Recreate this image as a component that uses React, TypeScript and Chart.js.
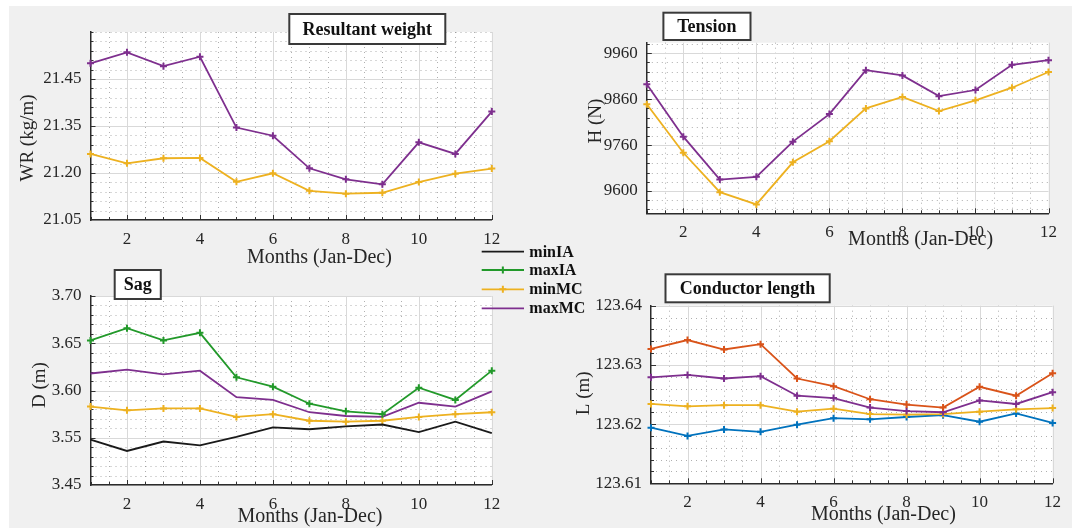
import React, { useEffect, useRef } from "react";
import { Chart, registerables } from "chart.js";

Chart.register(...registerables);

// ---------------- DATA ----------------
const months = [1, 2, 3, 4, 5, 6, 7, 8, 9, 10, 11, 12];
const xTickValues = [2, 4, 6, 8, 10, 12];
const legendNames = ["minIA", "maxIA", "minMC", "maxMC"];

// Resultant weight WR (kg/m)
const wrMaxMC = [21.55, 21.585, 21.541, 21.571, 21.345, 21.319, 21.215, 21.18, 21.164, 21.298, 21.261, 21.396];
const wrMinMC = [21.261, 21.231, 21.247, 21.248, 21.172, 21.199, 21.143, 21.134, 21.137, 21.171, 21.198, 21.214];
const wrTickValues = [21.05, 21.2, 21.35, 21.5];
const wrTickLabels = ["21.05", "21.20", "21.35", "21.45"];

// Tension H (N)
const hMaxMC = [9879, 9742, 9630, 9637, 9729, 9801, 9916, 9902, 9848, 9864, 9930, 9942];
const hMinMC = [9827, 9700, 9597, 9565, 9675, 9730, 9816, 9846, 9809, 9837, 9870, 9911];
const hTickValues = [9600, 9720, 9840, 9960];
const hTickLabels = ["9600", "9760", "9860", "9960"];

// Sag D (m)
const dMinIA = [3.548, 3.536, 3.546, 3.542, 3.551, 3.561, 3.559, 3.562, 3.564, 3.556, 3.567, 3.555];
const dMaxIA = [3.653, 3.666, 3.653, 3.661, 3.614, 3.604, 3.586, 3.578, 3.575, 3.603, 3.59, 3.621];
const dMinMC = [3.583, 3.579, 3.581, 3.581, 3.572, 3.575, 3.568, 3.567, 3.568, 3.572, 3.575, 3.577];
const dMaxMC = [3.618, 3.622, 3.617, 3.621, 3.593, 3.59, 3.577, 3.573, 3.572, 3.587, 3.583, 3.599];
const dTickValues = [3.5, 3.55, 3.6, 3.65, 3.7];
const dTickLabels = ["3.45", "3.55", "3.60", "3.65", "3.70"];

// Conductor length L (m)
const lMaxIA = [123.6327, 123.6342, 123.6326, 123.6335, 123.6277, 123.6264, 123.6242, 123.6233, 123.6228, 123.6263, 123.6248, 123.6286];
const lMaxMC = [123.6279, 123.6283, 123.6277, 123.6281, 123.6248, 123.6244, 123.6228, 123.6222, 123.622, 123.624, 123.6234, 123.6254];
const lMinMC = [123.6234, 123.623, 123.6232, 123.6232, 123.6221, 123.6226, 123.6217, 123.6216, 123.6217, 123.6221, 123.6225, 123.6227];
const lMinIA = [123.6194, 123.618, 123.6191, 123.6187, 123.6199, 123.621, 123.6208, 123.6212, 123.6215, 123.6204, 123.6218, 123.6202];
const lTickValues = [123.61, 123.62, 123.63, 123.64];
const lTickLabels = ["123.61", "123.62", "123.63", "123.64"];

// ---------------- STYLE ----------------
const SERIF = "'Liberation Serif', 'Times New Roman', serif";
const C_PURPLE = "#7E2F8E";
const C_YELLOW = "#EDB120";
const C_GREEN = "#22992A";
const C_BLACK = "#1a1a1a";
const C_RED = "#D95319";
const C_BLUE = "#0072BD";

Chart.defaults.font.family = SERIF;

function series(label: string, values: number[], color: string, marker: boolean) {
  return {
    label,
    data: months.map((m, i) => ({ x: m, y: values[i] })),
    borderColor: color,
    backgroundColor: color,
    borderWidth: 1.8,
    pointStyle: "cross",
    pointRadius: marker ? 3.5 : 0,
    pointBorderWidth: 2,
    pointBorderColor: color,
    pointBackgroundColor: color,
    tension: 0,
    clip: false,
    _marker: marker,
  };
}

interface Panel {
  canvas: [number, number, number, number];
  plot: [number, number, number, number];
  yMin: number;
  yMax: number;
  yTicks: number[];
  yLabels: string[];
  yMinor: number;
  title: string;
  titleBox: [number, number, number, number];
  xTitle: [number, number];
  yTitleText: string;
  yTitle: [number, number];
  datasets: any[];
  legend?: boolean;
}

const panels: Panel[] = [
  {
    canvas: [0, 0, 545, 275],
    plot: [90.5, 32, 491.8, 220],
    yMin: 21.05,
    yMax: 21.65,
    yTicks: wrTickValues,
    yLabels: wrTickLabels,
    yMinor: 0.03,
    title: "Resultant weight",
    titleBox: [289.3, 14, 445.3, 44],
    xTitle: [319.4, 258],
    yTitleText: "WR (kg/m)",
    yTitle: [27.6, 138],
    datasets: [series("maxMC", wrMaxMC, C_PURPLE, true), series("minMC", wrMinMC, C_YELLOW, true)],
  },
  {
    canvas: [545, 0, 527, 265],
    plot: [646.8, 42.7, 1048.5, 213.3],
    yMin: 9541.7,
    yMax: 9987.7,
    yTicks: hTickValues,
    yLabels: hTickLabels,
    yMinor: 24,
    title: "Tension",
    titleBox: [663.4, 12.7, 750.5, 40],
    xTitle: [920.6, 240],
    yTitleText: "H (N)",
    yTitle: [595.7, 121],
    datasets: [series("maxMC", hMaxMC, C_PURPLE, true), series("minMC", hMinMC, C_YELLOW, true)],
  },
  {
    canvas: [0, 240, 600, 291],
    plot: [90.5, 296, 491.8, 485],
    yMin: 3.5,
    yMax: 3.7,
    yTicks: dTickValues,
    yLabels: dTickLabels,
    yMinor: 0.01,
    title: "Sag",
    titleBox: [114.7, 270, 160.8, 299],
    xTitle: [310, 516.7],
    yTitleText: "D (m)",
    yTitle: [39.6, 385],
    datasets: [
      series(legendNames[0], dMinIA, C_BLACK, false),
      series(legendNames[1], dMaxIA, C_GREEN, true),
      series(legendNames[2], dMinMC, C_YELLOW, true),
      series(legendNames[3], dMaxMC, C_PURPLE, false),
    ],
    legend: true,
  },
  {
    canvas: [545, 260, 527, 271],
    plot: [651, 305.7, 1052.6, 483.3],
    yMin: 123.61,
    yMax: 123.64,
    yTicks: lTickValues,
    yLabels: lTickLabels,
    yMinor: 0.002,
    title: "Conductor length",
    titleBox: [665.5, 274.3, 829.7, 302.3],
    xTitle: [883.4, 515],
    yTitleText: "L (m)",
    yTitle: [583.6, 393.3],
    datasets: [
      series("maxIA", lMaxIA, C_RED, true),
      series("maxMC", lMaxMC, C_PURPLE, true),
      series("minMC", lMinMC, C_YELLOW, true),
      series("minIA", lMinIA, C_BLUE, true),
    ],
  },
];

const legendRows = [251.7, 270, 289.3, 308.3];

function near(a: number, b: number, eps: number) {
  return Math.abs(a - b) < eps;
}

function makePlugin(p: Panel) {
  const [cx, cy] = p.canvas;
  return {
    id: "matlabLook",
    beforeDraw(chart: any) {
      const { ctx, chartArea } = chart;
      const { left, top, right, bottom } = chartArea;
      const xs = chart.scales.x;
      const ys = chart.scales.y;
      ctx.save();
      ctx.fillStyle = "#ffffff";
      ctx.fillRect(left, top, right - left, bottom - top);

      // minor dotted grid
      ctx.strokeStyle = "rgba(110,110,110,0.55)";
      ctx.lineWidth = 1;
      ctx.setLineDash([1, 4]);
      for (let v = 1.5; v < 12; v += 0.5) {
        if (xTickValues.some((t) => near(t, v, 1e-6))) continue;
        const px = Math.round(xs.getPixelForValue(v)) + 0.5;
        ctx.beginPath();
        ctx.moveTo(px, top);
        ctx.lineTo(px, bottom);
        ctx.stroke();
      }
      const step = p.yMinor;
      const start = p.yTicks[0] - Math.floor((p.yTicks[0] - p.yMin) / step + 1e-6) * step;
      const yMinorVals: number[] = [];
      for (let v = start; v <= p.yMax + step * 1e-6; v += step) yMinorVals.push(v);
      yMinorVals.forEach((v) => {
        if (p.yTicks.some((t) => near(t, v, step * 0.01))) return;
        const py = Math.round(ys.getPixelForValue(v)) + 0.5;
        if (py < top - 0.5 || py > bottom) return;
        ctx.beginPath();
        ctx.moveTo(left, py);
        ctx.lineTo(right, py);
        ctx.stroke();
      });

      // major grid
      ctx.setLineDash([]);
      ctx.strokeStyle = "#d9d9d9";
      xTickValues.forEach((v) => {
        const px = Math.round(xs.getPixelForValue(v)) + 0.5;
        ctx.beginPath();
        ctx.moveTo(px, top);
        ctx.lineTo(px, bottom);
        ctx.stroke();
      });
      p.yTicks.forEach((v) => {
        const py = Math.round(ys.getPixelForValue(v)) + 0.5;
        ctx.beginPath();
        ctx.moveTo(left, py);
        ctx.lineTo(right, py);
        ctx.stroke();
      });

      // inward tick marks
      ctx.strokeStyle = "#333333";
      ctx.lineWidth = 1;
      for (let v = 1; v <= 12 + 1e-6; v += 0.5) {
        const major = xTickValues.some((t) => near(t, v, 1e-6));
        const px = Math.round(xs.getPixelForValue(v)) + 0.5;
        ctx.beginPath();
        ctx.moveTo(px, bottom);
        ctx.lineTo(px, bottom - (major ? 5 : 3));
        ctx.stroke();
      }
      yMinorVals.forEach((v) => {
        const major = p.yTicks.some((t) => near(t, v, step * 0.01));
        const py = Math.round(ys.getPixelForValue(v)) + 0.5;
        if (py < top - 0.5 || py > bottom) return;
        ctx.beginPath();
        ctx.moveTo(left, py);
        ctx.lineTo(left + (major ? 5 : 3), py);
        ctx.stroke();
      });
      ctx.restore();
    },
    afterDraw(chart: any) {
      const { ctx } = chart;
      ctx.save();
      // axis titles
      ctx.fillStyle = "#262626";
      ctx.textAlign = "center";
      ctx.textBaseline = "middle";
      ctx.font = `20px ${SERIF}`;
      ctx.fillText("Months (Jan-Dec)", p.xTitle[0] - cx, p.xTitle[1] - cy);
      ctx.font = `19px ${SERIF}`;
      ctx.save();
      ctx.translate(p.yTitle[0] - cx, p.yTitle[1] - cy);
      ctx.rotate(-Math.PI / 2);
      ctx.fillText(p.yTitleText, 0, 0);
      ctx.restore();

      // title box
      const [bx1, by1, bx2, by2] = p.titleBox;
      ctx.fillStyle = "#ffffff";
      ctx.fillRect(bx1 - cx, by1 - cy, bx2 - bx1, by2 - by1);
      ctx.strokeStyle = "#3a3a3a";
      ctx.lineWidth = 2;
      ctx.strokeRect(bx1 - cx, by1 - cy, bx2 - bx1, by2 - by1);
      ctx.fillStyle = "#111111";
      ctx.font = `bold 18px ${SERIF}`;
      ctx.fillText(p.title, (bx1 + bx2) / 2 - cx, (by1 + by2) / 2 - cy + 1);

      // legend
      if (p.legend) {
        chart.data.datasets.forEach((ds: any, i: number) => {
          const ry = legendRows[i] - cy;
          const x1 = 481.7 - cx;
          const x2 = 524 - cx;
          ctx.strokeStyle = ds.borderColor;
          ctx.lineWidth = 1.8;
          ctx.beginPath();
          ctx.moveTo(x1, ry);
          ctx.lineTo(x2, ry);
          ctx.stroke();
          if (ds._marker) {
            const mx = (x1 + x2) / 2;
            ctx.lineWidth = 2;
            ctx.beginPath();
            ctx.moveTo(mx - 3.5, ry);
            ctx.lineTo(mx + 3.5, ry);
            ctx.moveTo(mx, ry - 3.5);
            ctx.lineTo(mx, ry + 3.5);
            ctx.stroke();
          }
          ctx.fillStyle = "#111111";
          ctx.font = `bold 16px ${SERIF}`;
          ctx.textAlign = "left";
          ctx.fillText(ds.label, 529.3 - cx, ry + 1);
        });
      }
      ctx.restore();
    },
  };
}

function PanelChart({ p }: { p: Panel }) {
  const ref = useRef<HTMLCanvasElement | null>(null);
  useEffect(() => {
    if (!ref.current) return;
    const [cx, cy, cw, ch] = p.canvas;
    const [L, T, R, B] = p.plot;
    const tickFont = { family: SERIF, size: 17, weight: "normal" };
    const chart = new Chart(ref.current, {
      type: "line",
      data: { datasets: p.datasets as any },
      options: {
        responsive: false,
        animation: false,
        devicePixelRatio: 1,
        events: [],
        font: { family: SERIF },
        layout: { padding: { left: 0, top: T - cy, right: cx + cw - R, bottom: 0 } },
        plugins: { legend: { display: false }, tooltip: { enabled: false }, title: { display: false } },
        scales: {
          x: {
            type: "linear",
            min: 1,
            max: 12,
            afterBuildTicks: (s: any) => {
              s.ticks = xTickValues.map((v) => ({ value: v }));
            },
            afterFit: (s: any) => {
              s.height = cy + ch - B;
            },
            ticks: { font: tickFont, color: "#262626", padding: 9, maxRotation: 0, autoSkip: false },
            grid: { display: false, drawTicks: false },
            border: { display: true, color: "#2b2b2b", width: 1.5 },
          },
          y: {
            type: "linear",
            min: p.yMin,
            max: p.yMax,
            afterBuildTicks: (s: any) => {
              s.ticks = p.yTicks.map((v) => ({ value: v }));
            },
            afterFit: (s: any) => {
              s.width = L - cx;
            },
            ticks: {
              font: tickFont,
              color: "#262626",
              padding: 9,
              autoSkip: false,
              callback: (value: any) => {
                const idx = p.yTicks.findIndex((t) => Math.abs(t - Number(value)) < 1e-9);
                return idx >= 0 ? p.yLabels[idx] : "";
              },
            },
            grid: { display: false, drawTicks: false },
            border: { display: true, color: "#2b2b2b", width: 1.5 },
          },
        },
      } as any,
      plugins: [makePlugin(p)],
    });
    return () => chart.destroy();
  }, [p]);
  const [cx, cy, cw, ch] = p.canvas;
  return (
    <canvas
      ref={ref}
      width={cw}
      height={ch}
      style={{ position: "absolute", left: cx, top: cy, width: cw, height: ch }}
    />
  );
}

export default function App() {
  return (
    <div style={{ position: "absolute", left: 0, top: 0, width: 1072, height: 531, background: "#ffffff", overflow: "hidden" }}>
      <div style={{ position: "absolute", left: 9, top: 6, width: 1063, height: 522, background: "#f0f0f0" }} />
      {panels.map((p, i) => (
        <PanelChart key={i} p={p} />
      ))}
    </div>
  );
}
